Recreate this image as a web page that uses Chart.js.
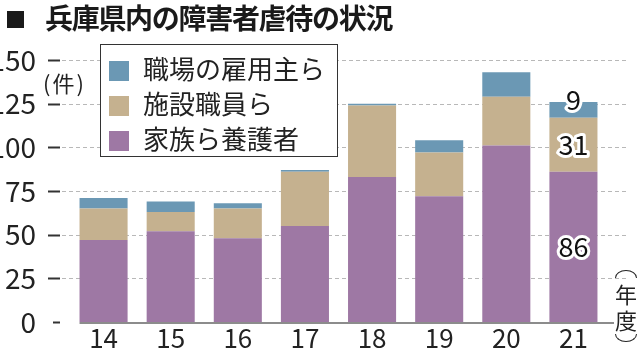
<!DOCTYPE html>
<html>
<head>
<meta charset="utf-8">
<script src="https://cdn.jsdelivr.net/npm/chart.js@4.4.1/dist/chart.umd.min.js"></script>
<style>
  body { margin: 0; background: #fff; }
  #wrap { position: relative; width: 640px; height: 351px; overflow: hidden; font-family: "Noto Sans CJK JP", sans-serif; color: #222; }
  #chart { position: absolute; left: 0; top: 0; }
  #title { position: absolute; left: 7px; top: -3px; font-size: 28px; font-weight: bold; letter-spacing: -1.3px; white-space: nowrap; color: #1a1a1a; }
  #title .sq { display: inline-block; width: 17px; height: 17px; background: #1a1a1a; margin-right: 21px; vertical-align: 1px; }
  #legend { position: absolute; left: 100px; top: 44px; width: 236px; height: 111px; border: 1.5px solid #333; background: #fff; }
  .item { position: absolute; left: 8px; height: 30px; line-height: 30px; font-size: 26px; white-space: nowrap; }
  .item .box { display: inline-block; width: 20px; height: 20px; margin-right: 14px; vertical-align: -2px; }
  #unit { position: absolute; left: 43px; top: 66px; font-size: 22px; letter-spacing: 2px; }
  #unitx { position: absolute; left: 615px; top: 270px; width: 22px; font-size: 22px; text-align: center; }
  #unitx .c { display: block; height: 26px; line-height: 26px; }
  #unitx .arc { height: 8px; box-sizing: border-box; border: 1.5px solid #222; }
  #unitx .top { border-bottom: none; border-radius: 50% 50% 0 0 / 100% 100% 0 0; margin-bottom: 2px; }
  #unitx .bot { border-top: none; border-radius: 0 0 50% 50% / 0 0 100% 100%; margin-top: 2px; }
</style>
</head>
<body>
<div id="wrap">
  <canvas id="chart" width="640" height="351"></canvas>
  <div id="title"><span class="sq"></span>兵庫県内の障害者虐待の状況</div>
  <div id="legend"></div>
  <div id="unit">(件)</div>
  <div id="unitx"><div class="arc top"></div><span class="c">年</span><span class="c">度</span><div class="arc bot"></div></div>
</div>
<script>
const years = ["14", "15", "16", "17", "18", "19", "20", "21"];
const family = [47, 52, 48, 55, 83, 72, 101, 86];
const staff = [18, 11, 17, 31, 41, 25, 28, 31];
const employer = [6, 6, 3, 1, 1, 7, 14, 9];
const seriesNames = ["家族ら養護者", "施設職員ら", "職場の雇用主ら"];
const seriesColors = ["#9e78a4", "#c5b18f", "#6b98b4"];
const yTicks = [0, 25, 50, 75, 100, 125, 150];

const FONT = "'Noto Sans CJK JP', sans-serif";

// legend box, top entry first
let html = "";
[2, 1, 0].forEach((s, row) => {
  html += `<div class="item" style="top:${8 + row * 35}px"><span class="box" style="background:${seriesColors[s]}"></span>${seriesNames[s]}</div>`;
});
document.getElementById("legend").innerHTML = html;

const gridPlugin = {
  id: "grid",
  beforeDatasetsDraw(chart) {
    const { ctx, chartArea } = chart;
    const y = chart.scales.y;
    ctx.save();
    for (const v of yTicks) {
      const py = Math.round(y.getPixelForValue(v)) + 0.5;
      if (v > 0) {
        ctx.setLineDash([4, 3]);
        ctx.strokeStyle = "#b8b8b8";
        ctx.lineWidth = 1;
        ctx.beginPath();
        ctx.moveTo(chartArea.left - 8, py);
        ctx.lineTo(chartArea.right + 21, py);
        ctx.stroke();
      }
      ctx.setLineDash([]);
      ctx.strokeStyle = "#333";
      ctx.lineWidth = 2;
      ctx.beginPath();
      ctx.moveTo(chartArea.left - (v === 0 ? 17 : 22), py);
      ctx.lineTo(chartArea.left - 10, py);
      ctx.stroke();
    }
    ctx.restore();
  },
  afterDatasetsDraw(chart) {
    const { ctx, chartArea } = chart;
    const y = chart.scales.y;
    const first = chart.getDatasetMeta(0).data[0];
    const py = y.getPixelForValue(0) + 1;
    ctx.save();
    ctx.strokeStyle = "#8c8c8c";
    ctx.lineWidth = 2;
    ctx.beginPath();
    ctx.moveTo(first.x - first.width / 2, py);
    ctx.lineTo(chartArea.right + 7, py);
    ctx.stroke();

    // value labels on the last year
    const last = years.length - 1;
    ctx.font = "27px " + FONT;
    ctx.textAlign = "center";
    ctx.textBaseline = "middle";
    ctx.lineJoin = "round";
    chart.data.datasets.forEach((ds, i) => {
      const el = chart.getDatasetMeta(i).data[last];
      const cy = i === 2 ? el.y - 2 : (el.y + el.base) / 2;
      const txt = String(ds.data[last]);
      ctx.lineWidth = 6;
      ctx.strokeStyle = "#fff";
      ctx.strokeText(txt, el.x, cy);
      ctx.fillStyle = "#111";
      ctx.fillText(txt, el.x, cy);
    });
    ctx.restore();
  },
};

new Chart(document.getElementById("chart"), {
  type: "bar",
  data: {
    labels: years,
    datasets: [
      { label: seriesNames[0], data: family, backgroundColor: seriesColors[0] },
      { label: seriesNames[1], data: staff, backgroundColor: seriesColors[1] },
      { label: seriesNames[2], data: employer, backgroundColor: seriesColors[2] },
    ],
  },
  options: {
    responsive: false,
    animation: false,
    layout: { padding: { top: 60, right: 33, left: 0, bottom: 0 } },
    datasets: { bar: { categoryPercentage: 1, barPercentage: 0.716, borderWidth: 0 } },
    plugins: { legend: { display: false }, tooltip: { enabled: false }, title: { display: false } },
    scales: {
      x: {
        stacked: true,
        grid: { display: false },
        border: { display: false },
        ticks: { color: "#222", font: { family: FONT, size: 26 }, padding: -7 },
        afterFit: (s) => { s.height = 29; s.paddingLeft = 0; s.paddingRight = 0; },
      },
      y: {
        stacked: true,
        min: 0,
        max: 150,
        grid: { display: false },
        border: { display: false },
        afterBuildTicks: (s) => { s.ticks = yTicks.map((v) => ({ value: v })); },
        ticks: { color: "#222", font: { family: FONT, size: 28 }, padding: 26 },
        afterFit: (s) => { s.width = 70; s.paddingTop = 0; s.paddingBottom = 0; },
      },
    },
  },
  plugins: [gridPlugin],
});
</script>
</body>
</html>
